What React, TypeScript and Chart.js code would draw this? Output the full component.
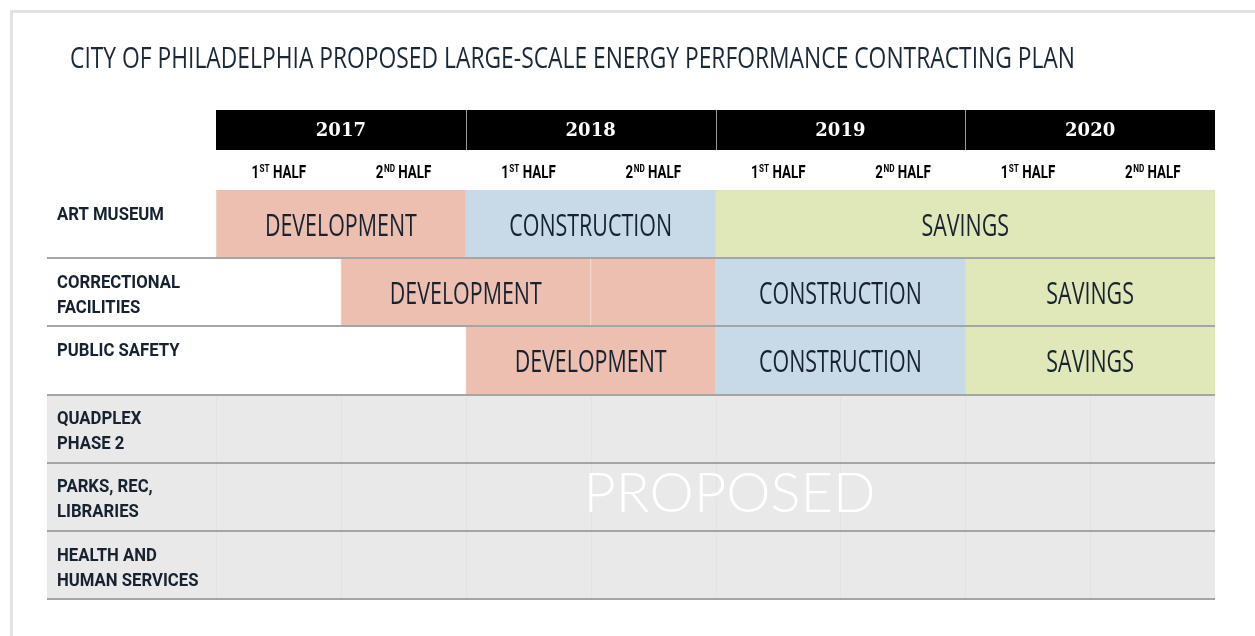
import React, { useEffect, useRef } from "react";
import { Chart, registerables } from "chart.js";

Chart.register(...registerables);

const TITLE = "CITY OF PHILADELPHIA PROPOSED LARGE-SCALE ENERGY PERFORMANCE CONTRACTING PLAN";
const years = ["2017", "2018", "2019", "2020"];
const halfNumbers = ["1", "2"];
const halfSuffixes = ["ST", "ND"];
const halfWord = "HALF";

const projects = [
  "ART MUSEUM",
  "CORRECTIONAL FACILITIES",
  "PUBLIC SAFETY",
  "QUADPLEX PHASE 2",
  "PARKS, REC, LIBRARIES",
  "HEALTH AND HUMAN SERVICES",
];
const projectLines = [
  ["ART MUSEUM"],
  ["CORRECTIONAL", "FACILITIES"],
  ["PUBLIC SAFETY"],
  ["QUADPLEX", "PHASE 2"],
  ["PARKS, REC,", "LIBRARIES"],
  ["HEALTH AND", "HUMAN SERVICES"],
];

// spans measured in half-years from the start of 2017
const developmentRow = [0, 1, 1, 2];
const developmentFrom = [0, 1, 3, 2];
const developmentTo = [2, 3, 4, 4];
const developmentShowLabel = [true, true, false, true];

const constructionRow = [0, 1, 2];
const constructionFrom = [2, 4, 4];
const constructionTo = [4, 6, 6];

const savingsRow = [0, 1, 2];
const savingsFrom = [4, 6, 6];
const savingsTo = [8, 8, 8];

const proposedRow = [3, 4, 5];
const proposedFrom = [0, 0, 0];
const proposedTo = [8, 8, 8];
const proposedLabel = "PROPOSED";

const DEV = "#ecbfb0";
const CON = "#c8dae8";
const SAV = "#e0e7b9";
const GRAY = "#e9e9e9";
const INK = "#16222f";

function spans(rows: number[], from: number[], to: number[]) {
  return rows.map((r, i) => ({ y: projects[r], x: [from[i], to[i]] }));
}

function drawCondensed(ctx: CanvasRenderingContext2D, text: string, x: number, y: number, font: string, sx: number, align: "left" | "center") {
  ctx.save();
  ctx.font = font;
  const w = ctx.measureText(text).width * sx;
  const left = align === "center" ? x - w / 2 : x;
  ctx.translate(left, y);
  ctx.scale(sx, 1);
  ctx.textAlign = "left";
  ctx.textBaseline = "middle";
  ctx.fillText(text, 0, 0);
  ctx.restore();
}

const ganttPlugin = {
  id: "gantt",
  beforeDraw(chart: any) {
    const { ctx, chartArea: a, scales } = chart;
    const y = scales.y;
    const band = y.getPixelForValue(1) - y.getPixelForValue(0);
    const labelLeft = a.left - 169;
    ctx.save();
    ctx.fillStyle = "#ffffff";
    ctx.fillRect(0, 0, chart.width, chart.height);
    ctx.fillStyle = "#e3e3e3";
    ctx.fillRect(10, 10, chart.width - 10, 3);
    ctx.fillRect(10, 10, 3, chart.height - 10);
    ctx.fillStyle = GRAY;
    proposedRow.forEach((r) => {
      const top = y.getPixelForValue(r) - band / 2;
      ctx.fillRect(labelLeft, top, a.left - labelLeft + 1, band);
    });
    ctx.restore();
  },
  afterDatasetsDraw(chart: any) {
    const { ctx, chartArea: a, scales } = chart;
    const x = scales.x;
    const y = scales.y;
    const band = y.getPixelForValue(1) - y.getPixelForValue(0);
    const labelLeft = a.left - 169;
    ctx.save();

    // faint column lines inside proposed rows
    ctx.strokeStyle = "#e3e3e3";
    ctx.lineWidth = 1;
    proposedRow.forEach((r) => {
      const top = y.getPixelForValue(r) - band / 2;
      for (let k = 0; k < 8; k++) {
        const px = Math.round(x.getPixelForValue(k)) + 0.5;
        ctx.beginPath();
        ctx.moveTo(px, top);
        ctx.lineTo(px, top + band);
        ctx.stroke();
      }
    });

    // row separators
    ctx.strokeStyle = "#a5a5a5";
    ctx.lineWidth = 2;
    projects.forEach((_, r) => {
      const py = Math.round(y.getPixelForValue(r) + band / 2);
      ctx.beginPath();
      ctx.moveTo(labelLeft, py);
      ctx.lineTo(a.right, py);
      ctx.stroke();
    });

    // bar labels
    ctx.fillStyle = INK;
    const barFont = '400 31px "Open Sans"';
    ctx.font = barFont;
    const barScale = 152 / ctx.measureText("DEVELOPMENT").width;
    chart.data.datasets.forEach((ds: any, i: number) => {
      if (!ds.phaseLabel) return;
      const meta = chart.getDatasetMeta(i);
      meta.data.forEach((el: any, j: number) => {
        if (ds.showLabel && !ds.showLabel[j]) return;
        const cx = (el.x + el.base) / 2;
        drawCondensed(ctx, ds.phaseLabel, cx, el.y + 3, barFont, barScale, "center");
      });
    });

    // PROPOSED watermark
    {
      const mid = proposedRow[Math.floor(proposedRow.length / 2)];
      const cx = x.getPixelForValue((proposedFrom[1] + proposedTo[1]) / 2) + 14;
      const cy = y.getPixelForValue(mid) - 3;
      const f = '300 56px "Lato"';
      ctx.font = f;
      const s = 292 / ctx.measureText(proposedLabel).width;
      ctx.fillStyle = "#ffffff";
      drawCondensed(ctx, proposedLabel, cx, cy, f, s, "center");
    }

    // row labels
    ctx.fillStyle = INK;
    const rowFont = 'bold 19px "Roboto"';
    ctx.font = rowFont;
    const rowScale = 123 / ctx.measureText("CORRECTIONAL").width;
    projectLines.forEach((lines, r) => {
      const top = y.getPixelForValue(r) - band / 2;
      lines.forEach((line, li) => {
        drawCondensed(ctx, line, labelLeft + 10, top + 25 + li * 25, rowFont, rowScale, "left");
      });
    });

    // year header
    const headTop = a.top - 80;
    const headH = 40;
    ctx.fillStyle = "#000000";
    ctx.fillRect(a.left, headTop, a.right - a.left, headH);
    ctx.strokeStyle = "#9c9c9c";
    ctx.lineWidth = 1;
    years.forEach((yr, i) => {
      const x0 = x.getPixelForValue(i * 2);
      const x1 = x.getPixelForValue(i * 2 + 2);
      if (i > 0) {
        const px = Math.round(x0) + 0.5;
        ctx.beginPath();
        ctx.moveTo(px, headTop);
        ctx.lineTo(px, headTop + headH);
        ctx.stroke();
      }
      ctx.fillStyle = "#ffffff";
      ctx.font = 'bold 18px "DejaVu Serif"';
      ctx.textAlign = "center";
      ctx.textBaseline = "middle";
      ctx.fillText(yr, (x0 + x1) / 2, headTop + headH / 2 + 1);

      // half labels
      for (let h = 0; h < 2; h++) {
        const c0 = x.getPixelForValue(i * 2 + h);
        const c1 = x.getPixelForValue(i * 2 + h + 1);
        const cx = (c0 + c1) / 2;
        const cy = a.top - 17;
        const sx = 0.74;
        const big = 'bold 18px "Roboto"';
        const small = 'bold 11px "Roboto"';
        ctx.font = big;
        const wn = ctx.measureText(halfNumbers[h]).width * sx;
        const ww = ctx.measureText(" " + halfWord).width * sx;
        ctx.font = small;
        const ws = ctx.measureText(halfSuffixes[h]).width * sx;
        let left = cx - (wn + ws + ww) / 2;
        ctx.fillStyle = "#000000";
        drawCondensed(ctx, halfNumbers[h], left, cy, big, sx, "left");
        left += wn + 0.5;
        drawCondensed(ctx, halfSuffixes[h], left, cy - 4, small, sx, "left");
        left += ws;
        drawCondensed(ctx, " " + halfWord, left, cy, big, sx, "left");
      }
    });

    // title
    ctx.fillStyle = "#1b2835";
    const tf = '400 29px "Open Sans"';
    ctx.font = tf;
    const ts = 1005 / ctx.measureText(TITLE).width;
    drawCondensed(ctx, TITLE, 70, 60, tf, ts, "left");

    ctx.restore();
  },
};

export default function App() {
  const ref = useRef<HTMLCanvasElement | null>(null);
  useEffect(() => {
    document.body.style.margin = "0";
    const canvas = ref.current!;
    const common = { barPercentage: 1, categoryPercentage: 1, grouped: false, borderWidth: 0 };
    const chart = new Chart(canvas, {
      type: "bar",
      data: {
        labels: projects,
        datasets: [
          {
            ...common,
            label: "PROPOSED",
            data: spans(proposedRow, proposedFrom, proposedTo) as any,
            backgroundColor: GRAY,
          },
          {
            ...common,
            label: "DEVELOPMENT",
            phaseLabel: "DEVELOPMENT",
            showLabel: developmentShowLabel,
            data: spans(developmentRow, developmentFrom, developmentTo) as any,
            backgroundColor: DEV,
            borderColor: "#f4d6cb",
            borderWidth: { left: 1, top: 0, right: 0, bottom: 0 },
            borderSkipped: false,
          } as any,
          {
            ...common,
            label: "CONSTRUCTION",
            phaseLabel: "CONSTRUCTION",
            data: spans(constructionRow, constructionFrom, constructionTo) as any,
            backgroundColor: CON,
          } as any,
          {
            ...common,
            label: "SAVINGS",
            phaseLabel: "SAVINGS",
            data: spans(savingsRow, savingsFrom, savingsTo) as any,
            backgroundColor: SAV,
          } as any,
        ],
      },
      options: {
        indexAxis: "y",
        animation: false,
        responsive: false,
        maintainAspectRatio: false,
        layout: { padding: { left: 216, right: 40, top: 190, bottom: 37 } },
        scales: {
          x: { type: "linear", min: 0, max: 8, display: false },
          y: { type: "category", display: false, offset: true },
        },
        plugins: {
          legend: { display: false },
          tooltip: { enabled: false },
          title: { display: false },
        },
      },
      plugins: [ganttPlugin],
    });
    return () => chart.destroy();
  }, []);
  return (
    <canvas
      ref={ref}
      width={1255}
      height={636}
      style={{ position: "fixed", left: 0, top: 0, display: "block", width: 1255, height: 636 }}
    />
  );
}
